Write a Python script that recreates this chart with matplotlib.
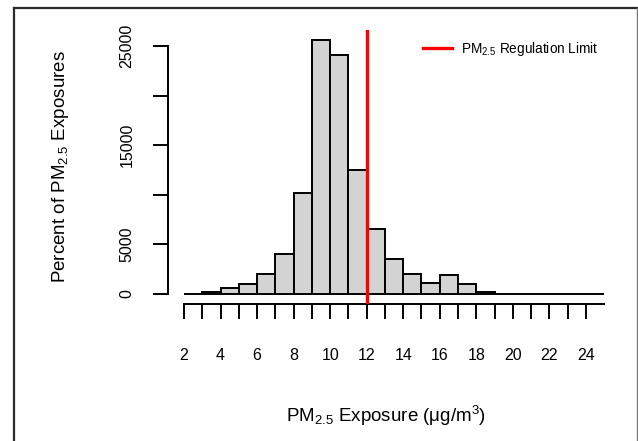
import numpy as np
import matplotlib
matplotlib.use('Agg')
import matplotlib.pyplot as plt
from matplotlib.lines import Line2D

# Histogram data (bin edges 2..25, width 1)
bin_left = list(range(2, 25))
counts = [40, 170, 620, 1020, 2020, 4000, 10150, 25600, 24100, 12550,
          6520, 3530, 2050, 1100, 1870, 1000, 170, 50, 30, 10, 5, 5, 5]
limit = 12

x_major = [2, 4, 6, 8, 10, 12, 14, 16, 18, 20, 22, 24]
x_minor = [3, 5, 7, 9, 11, 13, 15, 17, 19, 21, 23]
y_ticks = [0, 5000, 10000, 15000, 20000, 25000]
y_labels = ['0', '5000', '', '15000', '', '25000']

plt.rcParams['font.family'] = ['Liberation Sans', 'DejaVu Sans']
plt.rcParams['mathtext.default'] = 'regular'

W, H = 638, 441
fig = plt.figure(figsize=(W / 100, H / 100), dpi=100)

# axes placed in pixel terms: left 168, right 610, top 30, bottom 304
ax = fig.add_axes([168 / W, 1 - 304 / H, (610 - 168) / W, (304 - 30) / H])
ax.set_xlim(1.124, 25.32)
ax.set_ylim(-1008, 26613)

ax.bar(bin_left, counts, width=1, align='edge', color='#D3D3D3',
       edgecolor='black', linewidth=1.4, zorder=2)
ax.axvline(limit, color='#FF0000', linewidth=2.4, zorder=3,
           label='PM$_{2.5}$ Regulation Limit')

for s in ['top', 'right']:
    ax.spines[s].set_visible(False)
ax.spines['left'].set_bounds(0, 25000)
ax.spines['bottom'].set_bounds(2, 25)
ax.spines['left'].set_linewidth(1.4)
ax.spines['bottom'].set_linewidth(1.4)

ax.set_xticks(x_major)
ax.set_xticks(x_minor, minor=True)
ax.tick_params(axis='x', which='both', direction='out', length=11, width=1.4, pad=21, labelsize=11.5)
ax.set_yticks(y_ticks)
ax.set_yticklabels(y_labels, rotation=90, va='center')
ax.tick_params(axis='y', direction='out', length=11, width=1.4, pad=13, labelsize=11.5)

ax.set_ylabel('Percent of PM$_{2.5}$ Exposures', fontsize=13.5, labelpad=35)
fig.text(386 / W, 1 - 416 / H, 'PM$_{2.5}$ Exposure ($\\mu$g/m$^{3}$)', fontsize=13.5,
         ha='center', va='center')

ax.legend(loc='upper right', bbox_to_anchor=(611 / W, 1 - 28 / H), bbox_transform=fig.transFigure,
          frameon=False, fontsize=9.8, handlelength=2.1, handletextpad=0.7)

# outer frame
fig.add_artist(Line2D([13.5 / W, 13.5 / W], [0, 1 - 8 / H], color='#2a2a2a', linewidth=1.6))
fig.add_artist(Line2D([13.5 / W, 636.5 / W], [1 - 8 / H, 1 - 8 / H], color='#2a2a2a', linewidth=1.6))
fig.add_artist(Line2D([636.5 / W, 636.5 / W], [0, 1 - 8 / H], color='#777777', linewidth=1.0))

fig.savefig('out.png', dpi=100)
